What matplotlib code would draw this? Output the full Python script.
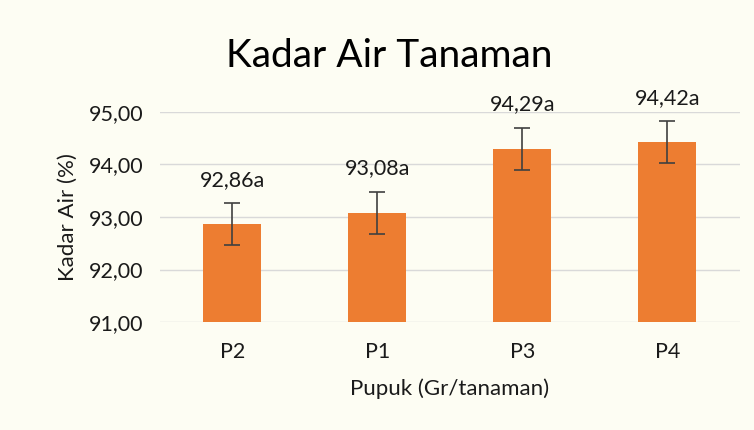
import matplotlib.pyplot as plt
import numpy as np

plt.rcParams['font.family'] = ['Lato', 'DejaVu Sans']

categories = ["P2", "P1", "P3", "P4"]
values = [92.86, 93.08, 94.29, 94.42]
errors = [0.40, 0.40, 0.40, 0.40]
labels = ["92,86a", "93,08a", "94,29a", "94,42a"]
yticks = [91, 92, 93, 94, 95]

fig = plt.figure(figsize=(7.54, 4.30), dpi=100)
fig.patch.set_facecolor('#fdfdf3')
ax = fig.add_axes([0.212, 0.251, 0.769, 0.489])
ax.set_facecolor('none')

x = np.arange(len(categories))
ax.bar(x, values, width=0.4, color='#ed7d31', zorder=2)
ax.errorbar(x, values, yerr=errors, fmt='none', ecolor='#404040',
            elinewidth=1.2, capsize=6, capthick=1.2, zorder=3)
for xi, v, e, lab in zip(x, values, errors, labels):
    ax.text(xi, v + e + 0.45, lab, ha='center', va='center', fontsize=15.5,
            color='#1a1a1a', clip_on=False)

ax.set_ylim(91, 95)
ax.set_xlim(-0.5, 3.5)
ax.set_yticks(yticks)
ax.set_yticklabels([("%.2f" % t).replace('.', ',') for t in yticks])
ax.set_xticks(x)
ax.set_xticklabels(categories)
ax.tick_params(axis='both', length=0, labelsize=15.5, colors='#1a1a1a')
ax.tick_params(axis='x', pad=14)
ax.tick_params(axis='y', pad=12)
ax.grid(axis='y', color='#d9d9d9', linewidth=1, zorder=0)
for s in ax.spines.values():
    s.set_visible(False)

ax.set_ylabel("Kadar Air (%)", fontsize=16, color='#1a1a1a', labelpad=8)
ax.set_xlabel("Pupuk (Gr/tanaman)", fontsize=16, color='#1a1a1a', labelpad=12)
fig.text(0.516, 0.87, "Kadar Air Tanaman", ha='center', va='center',
         fontsize=28, color='#000000')

fig.savefig("out.png", dpi=100, facecolor=fig.get_facecolor())
